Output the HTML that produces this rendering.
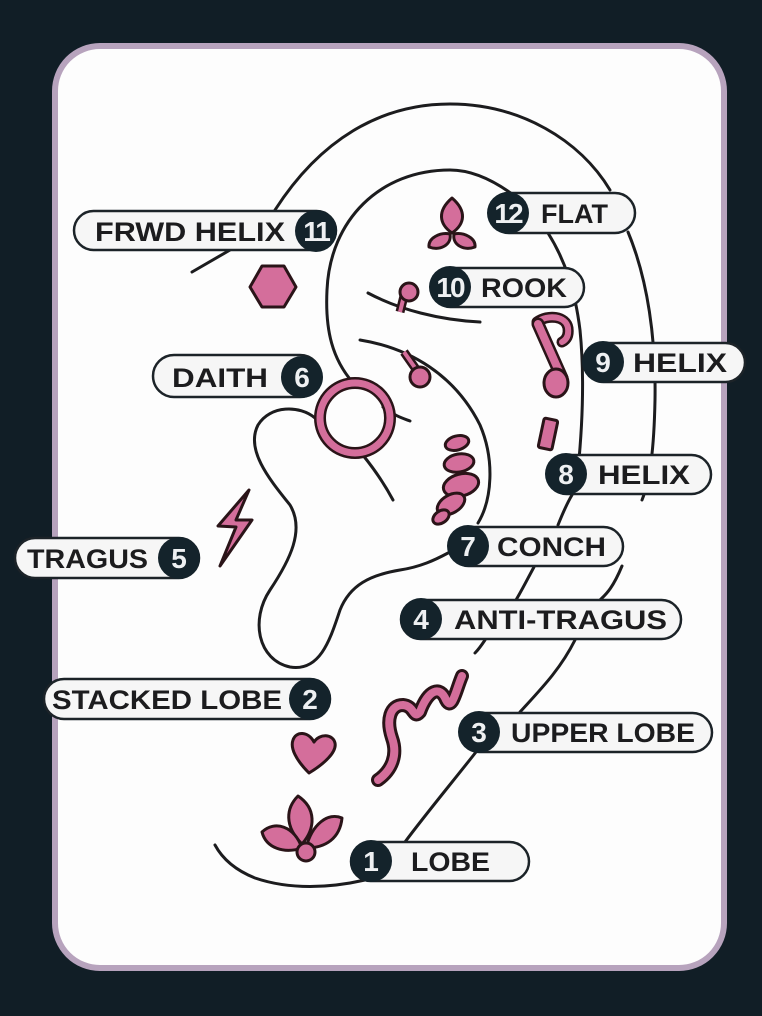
<!DOCTYPE html>
<html><head><meta charset="utf-8"><style>
html,body{margin:0;padding:0;background:#111e26;}
svg{display:block}
text{font-family:"Liberation Sans",sans-serif;font-weight:bold;}
</style></head><body>
<svg width="762" height="1016" viewBox="0 0 762 1016" xmlns="http://www.w3.org/2000/svg">
<rect x="0" y="0" width="762" height="1016" fill="#111e26"/>
<rect x="55" y="46" width="669" height="922" rx="45" fill="#fdfdfd" stroke="#b7a3bd" stroke-width="6"/>

<g fill="none" stroke="#1c1c1e" stroke-width="3" stroke-linecap="round">
<path d="M192,272 L230,250 M275,210 C320,140 380,104 450,104 C520,104 580,140 610,190"/>
<path d="M628,232 C648,280 656,340 655,400 C654,450 650,480 642,500"/>
<path d="M622,566 C612,590 605,595 600,600"/>
<path d="M575,640 C560,670 540,690 520,712"/>
<path d="M476,752 C450,785 425,815 405,842"/>
<path d="M365,880 C330,888 290,890 255,878 C235,870 222,858 215,845"/>
<path d="M512,194 C490,178 470,170 450,170 C380,170 330,220 327,290 C325,330 332,360 355,385"/>
<path d="M383,407 C395,416 402,418 410,421"/>
<path d="M548,233 C565,260 575,290 580,330 C585,380 582,430 578,470"/>
<path d="M572,495 C566,505 562,515 558,525"/>
<path d="M534,567 C528,578 522,590 516,600"/>
<path d="M485,640 C481,646 478,650 475,653"/>
<path d="M368,293 C400,310 440,320 480,322"/>
<path d="M360,340 C410,348 455,375 480,425 C495,460 492,500 478,523"/>
<path d="M315,418 C300,405 270,405 258,425 C245,450 270,480 290,505 C305,530 290,560 270,590 C250,620 258,660 290,667 C320,672 330,640 340,610 C350,585 370,575 400,570 C420,567 435,560 448,553"/>
<path d="M362,454 C375,470 385,485 393,500"/>
</g>

<g fill="#d46e9b" stroke="#2a1418" stroke-width="3" stroke-linejoin="round">
<polygon points="262,266 284,266 296,287 284,307 262,307 250,287"/>
<path d="M452,198 C467,211 465,224 452,233 C439,224 437,211 452,198Z"/>
<path d="M450,234 C440,232 428,238 429,247 C440,251 452,245 450,234Z"/>
<path d="M454,234 C464,232 476,238 475,247 C464,251 452,245 454,234Z"/>
<path d="M404,296 L400,312" stroke-width="9" stroke="#2a1418"/>
<path d="M404,296 L400,312" stroke-width="4" stroke="#d46e9b"/>
<circle cx="409" cy="292" r="9"/>
<path d="M404,352 L418,372" stroke-width="9" stroke="#2a1418"/>
<path d="M404,352 L418,372" stroke-width="4" stroke="#d46e9b"/>
<circle cx="420" cy="377" r="10"/>
<path d="M537,322 C548,314 566,316 568,328 C569,336 566,340 562,342" fill="none" stroke="#2a1418" stroke-width="11" stroke-linecap="round"/>
<path d="M537,322 C548,314 566,316 568,328 C569,336 566,340 562,342" fill="none" stroke="#d46e9b" stroke-width="6" stroke-linecap="round"/>
<path d="M538,324 L562,378" fill="none" stroke="#2a1418" stroke-width="13" stroke-linecap="round"/>
<path d="M538,324 L562,378" fill="none" stroke="#d46e9b" stroke-width="8" stroke-linecap="round"/>
<ellipse cx="556" cy="383" rx="12" ry="14"/>
<rect x="541" y="419" width="14" height="30" rx="2" transform="rotate(12 548 434)"/>
<circle cx="355" cy="418" r="35" fill="none" stroke="#2a1418" stroke-width="12"/>
<circle cx="355" cy="418" r="35" fill="none" stroke="#d46e9b" stroke-width="7"/>
<ellipse cx="457" cy="443" rx="12" ry="7" transform="rotate(-15 457 443)"/>
<ellipse cx="459" cy="463" rx="15" ry="9" transform="rotate(-10 459 463)"/>
<ellipse cx="461" cy="485" rx="18" ry="11" transform="rotate(-15 461 485)"/>
<ellipse cx="451" cy="504" rx="15" ry="9" transform="rotate(-30 451 504)"/>
<ellipse cx="441" cy="517" rx="9" ry="6" transform="rotate(-35 441 517)"/>
<polygon points="249,490 218,526 236,527 220,566 252,520 236,520"/>
<path d="M378,780 C392,770 398,755 392,738 C386,720 390,705 403,705 C415,706 413,720 420,712 C428,690 440,685 446,700 C452,712 456,690 462,676" fill="none" stroke="#2a1418" stroke-width="14" stroke-linecap="round"/>
<path d="M378,780 C392,770 398,755 392,738 C386,720 390,705 403,705 C415,706 413,720 420,712 C428,690 440,685 446,700 C452,712 456,690 462,676" fill="none" stroke="#d46e9b" stroke-width="8" stroke-linecap="round"/>
<path d="M309,773 C296,760 290,748 293,740 C296,731 308,731 314,742 C320,733 333,734 335,743 C337,752 324,764 309,773Z"/>
<path d="M298,796 C286,808 284,826 302,844 C316,828 316,808 298,796Z"/>
<path d="M262,832 C275,820 294,826 302,848 C284,854 266,848 262,832Z"/>
<path d="M342,818 C328,812 312,824 306,848 C326,848 340,838 342,818Z"/>
<circle cx="306" cy="852" r="9"/>
</g>

<g stroke="#1c2328" stroke-width="2.5" fill="#f6f6f6">
<rect x="74" y="211" width="262" height="39" rx="19.5"/>
<rect x="489" y="193" width="146" height="40" rx="20"/>
<rect x="431" y="268" width="153" height="39" rx="19.5"/>
<rect x="153" y="355" width="168" height="42" rx="21"/>
<rect x="584" y="343" width="161" height="39" rx="19.5"/>
<rect x="547" y="455" width="164" height="39" rx="19.5"/>
<rect x="15" y="538" width="184" height="40" rx="20"/>
<rect x="449" y="527" width="174" height="39" rx="19.5"/>
<rect x="401" y="600" width="280" height="39" rx="19.5"/>
<rect x="44" y="679" width="286" height="40" rx="20"/>
<rect x="460" y="713" width="252" height="39" rx="19.5"/>
<rect x="351" y="842" width="178" height="39" rx="19.5"/>
</g>
<g fill="#14232b">
<circle cx="316" cy="231" r="21"/>
<circle cx="508" cy="213" r="21"/>
<circle cx="450" cy="287" r="21"/>
<circle cx="302" cy="377" r="21"/>
<circle cx="603" cy="362" r="21"/>
<circle cx="566" cy="474" r="21"/>
<circle cx="179" cy="558" r="21"/>
<circle cx="468" cy="546" r="21"/>
<circle cx="421" cy="619" r="21"/>
<circle cx="310" cy="699" r="21"/>
<circle cx="479" cy="732" r="21"/>
<circle cx="371" cy="861" r="21"/>
</g>
<g fill="#1c1c1e" font-size="27">
<text x="95" y="241" textLength="190" lengthAdjust="spacingAndGlyphs">FRWD HELIX</text>
<text x="541" y="223" textLength="67" lengthAdjust="spacingAndGlyphs">FLAT</text>
<text x="481" y="297" textLength="86" lengthAdjust="spacingAndGlyphs">ROOK</text>
<text x="172" y="387" textLength="96" lengthAdjust="spacingAndGlyphs">DAITH</text>
<text x="633" y="372" textLength="94" lengthAdjust="spacingAndGlyphs">HELIX</text>
<text x="598" y="484" textLength="92" lengthAdjust="spacingAndGlyphs">HELIX</text>
<text x="27" y="568" textLength="121" lengthAdjust="spacingAndGlyphs">TRAGUS</text>
<text x="497" y="556" textLength="109" lengthAdjust="spacingAndGlyphs">CONCH</text>
<text x="454" y="629" textLength="213" lengthAdjust="spacingAndGlyphs">ANTI-TRAGUS</text>
<text x="52" y="709" textLength="230" lengthAdjust="spacingAndGlyphs">STACKED LOBE</text>
<text x="511" y="742" textLength="184" lengthAdjust="spacingAndGlyphs">UPPER LOBE</text>
<text x="411" y="871" textLength="79" lengthAdjust="spacingAndGlyphs">LOBE</text>
</g>
<g fill="#eef0f2" font-size="28" text-anchor="middle">
<text x="316" y="241" letter-spacing="-2">11</text>
<text x="508" y="223" letter-spacing="-2">12</text>
<text x="450" y="297" letter-spacing="-2">10</text>
<text x="302" y="387">6</text>
<text x="603" y="372">9</text>
<text x="566" y="484">8</text>
<text x="179" y="568">5</text>
<text x="468" y="556">7</text>
<text x="421" y="629">4</text>
<text x="310" y="709">2</text>
<text x="479" y="742">3</text>
<text x="371" y="871">1</text>
</g>
</svg>
</body></html>
